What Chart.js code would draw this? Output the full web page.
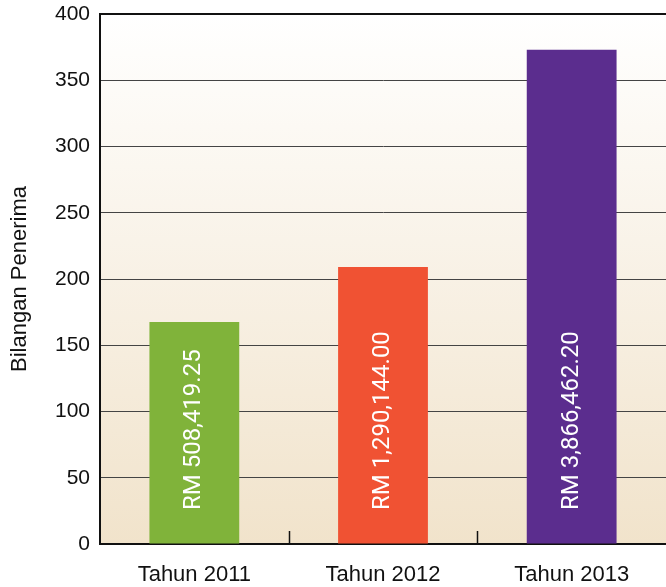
<!DOCTYPE html>
<html>
<head>
<meta charset="utf-8">
<script src="https://cdn.jsdelivr.net/npm/chart.js@4"></script>
<style>
  html, body { margin: 0; padding: 0; background: #fff; }
  #wrap { width: 666px; height: 587px; }
</style>
</head>
<body>
<div id="wrap"><canvas id="chart" width="666" height="587"></canvas></div>
<script>
// data
const categories = ["Tahun 2011", "Tahun 2012", "Tahun 2013"];
const recipients = [167.5, 209, 373];
const amountLabels = ["RM 508,419.25", "RM 1,290,144.00", "RM 3,866,462.20"];
const barColors = ["#80b33a", "#f05233", "#5b2d8e"];
const yTitle = "Bilangan Penerima";

const FONT = "'Liberation Sans', Arial, sans-serif";

// fondo degradado solo en el area del grafico
const plotBackground = {
  id: "plotBackground",
  beforeDraw(chart) {
    const { ctx, chartArea: a } = chart;
    const g = ctx.createLinearGradient(0, a.top, 0, a.bottom);
    g.addColorStop(0, "#ffffff");
    g.addColorStop(1, "#f1e3cb");
    ctx.save();
    ctx.fillStyle = g;
    ctx.fillRect(a.left, a.top, a.right - a.left, a.bottom - a.top);
    ctx.restore();
  },
};

// marcas interiores entre categorias + textos verticales en las barras
const barExtras = {
  id: "barExtras",
  afterDatasetsDraw(chart) {
    const { ctx, chartArea: a, scales } = chart;
    const x = scales.x;
    ctx.save();
    ctx.strokeStyle = "#111";
    ctx.lineWidth = 1.5;
    for (let i = 1; i < categories.length; i++) {
      const px = Math.round((x.getPixelForTick(i - 1) + x.getPixelForTick(i)) / 2) + 0.5;
      ctx.beginPath();
      ctx.moveTo(px, a.bottom);
      ctx.lineTo(px, a.bottom - 13);
      ctx.stroke();
    }

    const meta = chart.getDatasetMeta(0);
    ctx.fillStyle = "#ffffff";
    ctx.font = "24px Roboto, " + FONT;
    ctx.textAlign = "left";
    ctx.textBaseline = "middle";
    meta.data.forEach((bar, i) => {
      ctx.save();
      ctx.translate(bar.x, a.bottom - 34);
      ctx.rotate(-Math.PI / 2);
      ctx.fillText(amountLabels[i], 0, 0);
      ctx.restore();
    });
    ctx.restore();
  },
};

new Chart(document.getElementById("chart"), {
  type: "bar",
  data: {
    labels: categories,
    datasets: [
      {
        data: recipients,
        backgroundColor: barColors,
        borderWidth: 0,
        categoryPercentage: 0.476,
        barPercentage: 1,
      },
    ],
  },
  options: {
    responsive: false,
    animation: false,
    layout: { padding: { top: 14, right: 0, left: 0, bottom: 0 } },
    plugins: {
      legend: { display: false },
      tooltip: { enabled: false },
    },
    scales: {
      x: {
        afterFit: (s) => { s.height = 43; },
        grid: { display: false, drawTicks: false },
        border: { display: true, color: "#111", width: 2 },
        ticks: {
          color: "#111",
          font: { size: 22, family: FONT },
          padding: 18,
        },
      },
      y: {
        min: 0,
        max: 400,
        afterFit: (s) => { s.width = 100; s.paddingTop = 0; s.paddingBottom = 0; },
        border: { display: true, color: "#111", width: 2 },
        grid: {
          drawTicks: false,
          color: (c) => (c.tick.value === 400 ? "#111" : "#444"),
          lineWidth: (c) => (c.tick.value === 400 ? 2 : 1),
        },
        ticks: {
          stepSize: 50,
          color: "#111",
          padding: 10,
          font: { size: 21, family: FONT },
        },
        title: {
          display: true,
          text: yTitle,
          color: "#111",
          padding: { top: 7, bottom: 0 },
          font: { size: 22, family: FONT },
        },
      },
    },
  },
  plugins: [plotBackground, barExtras],
});
</script>
</body>
</html>
